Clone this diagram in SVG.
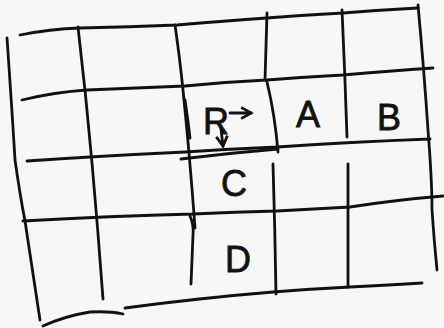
<svg xmlns="http://www.w3.org/2000/svg" width="444" height="328" viewBox="0 0 444 328">
<defs>
<style>
.ln{fill:none;stroke:#111;stroke-width:2.8;stroke-linecap:round;stroke-linejoin:round}
.lb{font-family:"Liberation Sans",Arial,sans-serif;font-size:36px;fill:#111;stroke:#111;stroke-width:0.8;text-anchor:middle}
</style>
<marker id="ah" viewBox="0 0 10 10" refX="8" refY="5" markerWidth="5" markerHeight="5" orient="auto">
<path d="M1,1 L8,5 L1,9" fill="none" stroke="#111" stroke-width="2"/>
</marker>
</defs>
<rect width="444" height="328" fill="#f7f7f6"/>
<g id="grid">
<path class="ln" d="M20,35 Q50,29 80,28 Q130,27 177,25 Q225,21 267,18 Q305,15 343,13 Q380,10 418,8"/>
<path class="ln" d="M22,100 Q55,92 87,90 Q135,88 185,86 Q225,82 267,80 Q305,77 343,75 Q390,71 433,68"/>
<path class="ln" d="M27,161 Q100,156 185,152 Q230,149 277,147 Q350,142 430,139"/>
<path class="ln" d="M181,159 Q230,153 278,149"/>
<path class="ln" d="M23,221 Q110,216 193,214 Q235,212 277,211 Q312,209 350,207 Q395,200 443,196"/>
<path class="ln" d="M43,326 Q65,316 90,312 Q110,311 123,314"/>
<path class="ln" d="M125,308 Q200,298 273,292 Q310,289 350,287 Q390,285 422,283"/>
<path class="ln" d="M7,38 Q12,110 15,160 Q20,195 25,221 Q33,275 40,320"/>
<path class="ln" d="M78,27 Q86,95 92,163 Q98,230 103,299"/>
<path class="ln" d="M175,25 Q180,60 183,90 Q188,140 190,165 Q193,200 195,228"/>
<path class="ln" d="M185,100 Q188,120 190,138"/>
<path class="ln" d="M190,216 Q194,225 193,235 Q192,260 191,284"/>
<path class="ln" d="M267,13 Q266,50 265,80"/>
<path class="ln" d="M267,82 Q275,115 278,152"/>
<path class="ln" d="M273,164 Q275,230 276,294"/>
<path class="ln" d="M342,10 Q345,75 347,137"/>
<path class="ln" d="M348,164 Q348,225 348,287"/>
<path class="ln" d="M418,5 Q424,70 428,130 Q432,180 432,210 Q434,240 437,270"/>
</g>
<g id="cell-R">
<text class="lb" x="216" y="134" font-size="46">R</text>
<path class="ln" d="M230,113 L251,113" marker-end="url(#ah)"/>
<path class="ln" d="M221,129 L223,146" marker-end="url(#ah)"/>
</g>
<g id="cell-A"><text class="lb" x="308" y="127">A</text></g>
<g id="cell-B"><text class="lb" x="389" y="130" font-size="40">B</text></g>
<g id="cell-C"><text class="lb" x="234" y="196" font-size="38">C</text></g>
<g id="cell-D"><text class="lb" x="238" y="272" font-size="40">D</text></g>
</svg>
